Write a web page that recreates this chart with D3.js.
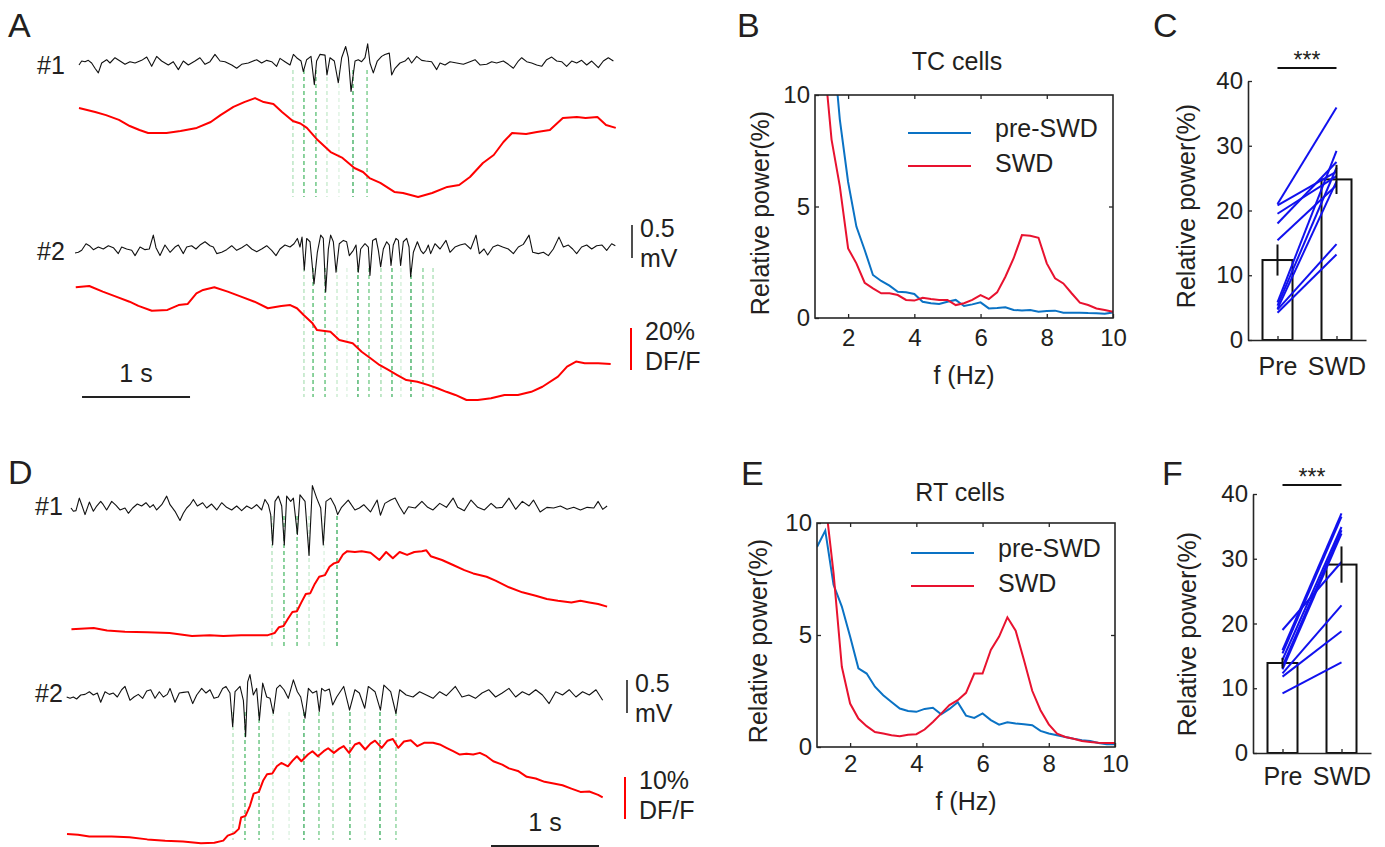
<!DOCTYPE html>
<html><head><meta charset="utf-8">
<script src="https://cdn.jsdelivr.net/npm/d3@7"></script>
<style>
body{margin:0;background:#fff}
text{font-family:Arial,"Liberation Sans",sans-serif;fill:#231f20}
</style>
</head><body>
<svg id="c" width="1385" height="847" style="background:#fff"></svg>
<script>
// ---------------- DATA ----------------
// Panel A, EEG traces [time s, mV]
const eegA1 = [[0,-0.03],[0.025,0.03],[0.056,0.02],[0.086,0.04],[0.117,0],[0.148,-0.08],[0.179,-0.15],[0.21,0],[0.256,0.05],[0.287,0],[0.333,0.08],[0.38,0.03],[0.426,-0.02],[0.472,0.02],[0.519,0],[0.58,0.04],[0.627,0.09],[0.673,-0.05],[0.719,0.1],[0.765,0.03],[0.827,-0.03],[0.873,0.02],[0.92,-0.1],[0.966,0.03],[1.012,-0.03],[1.074,0.03],[1.12,0.08],[1.167,-0.02],[1.213,0.02],[1.259,0.13],[1.306,0.03],[1.352,0.02],[1.414,-0.03],[1.46,-0.08],[1.506,-0.02],[1.568,0],[1.645,0.05],[1.691,0],[1.738,0.04],[1.784,0.02],[1.83,-0.05],[1.861,0.07],[1.907,0.02],[1.954,-0.03],[1.985,0.13],[2.015,0.08],[2.056,0.03],[2.077,-0.13],[2.108,0.05],[2.148,0.1],[2.179,-0.33],[2.2,0.03],[2.231,0.13],[2.278,0.12],[2.296,-0.18],[2.324,0.08],[2.364,0.03],[2.401,-0.3],[2.432,0.08],[2.469,0.25],[2.494,0.08],[2.519,-0.43],[2.556,0.03],[2.586,0.05],[2.617,0.02],[2.648,0.08],[2.673,0.29],[2.694,0],[2.725,-0.15],[2.762,0.03],[2.802,0.1],[2.833,0.13],[2.873,0.15],[2.895,-0.18],[2.926,-0.08],[2.972,0],[3.019,0.03],[3.05,0.08],[3.08,0],[3.127,0.1],[3.173,0.04],[3.21,0.03],[3.265,0.02],[3.312,-0.1],[3.343,0],[3.389,-0.03],[3.435,0.02],[3.497,0],[3.559,-0.02],[3.62,0.02],[3.667,0.05],[3.713,-0.03],[3.775,-0.02],[3.821,0.02],[3.867,0],[3.929,0.03],[3.975,-0.02],[4.022,-0.08],[4.068,0.03],[4.099,0.08],[4.145,0.02],[4.191,0],[4.238,-0.03],[4.284,-0.05],[4.33,0.05],[4.377,0.09],[4.423,0.03],[4.469,0.02],[4.515,-0.05],[4.562,0.03],[4.608,0],[4.654,0.04],[4.701,-0.03],[4.747,0.03],[4.809,-0.07],[4.855,0.03],[4.901,0.08],[4.948,0.03]];
const eegA2 = [[-0.037,-0.06],[-0.006,-0.05],[0.025,-0.02],[0.065,0.08],[0.096,0.05],[0.133,-0.01],[0.179,0.03],[0.225,0],[0.272,0.05],[0.318,0.02],[0.364,-0.07],[0.395,0.03],[0.441,0],[0.488,-0.02],[0.519,-0.1],[0.565,0.03],[0.611,-0.01],[0.651,0],[0.688,0.21],[0.713,0.02],[0.75,-0.1],[0.796,0.06],[0.843,-0.05],[0.889,0.03],[0.92,0.06],[0.966,-0.07],[0.997,0.03],[1.043,0.05],[1.083,0],[1.12,0.06],[1.167,0.11],[1.213,0.05],[1.244,0.03],[1.275,-0.07],[1.321,-0.05],[1.367,-0.01],[1.414,0.05],[1.46,-0.02],[1.506,0.02],[1.553,0.07],[1.599,0],[1.645,-0.04],[1.691,0],[1.738,0.05],[1.784,-0.02],[1.824,-0.1],[1.861,0],[1.907,0.06],[1.954,0.03],[1.991,0.08],[2.022,0.16],[2.046,0.03],[2.065,0.18],[2.086,-0.32],[2.108,0.16],[2.139,0.11],[2.176,-0.53],[2.207,-0.05],[2.238,0.21],[2.262,0.16],[2.284,-0.65],[2.309,0],[2.33,0.21],[2.355,0.11],[2.38,-0.35],[2.41,0.08],[2.448,0.13],[2.478,0.11],[2.503,-0.1],[2.54,-0.02],[2.565,0.06],[2.586,-0.35],[2.608,0],[2.648,0.08],[2.679,0.03],[2.694,-0.4],[2.719,0.13],[2.75,0.16],[2.772,-0.02],[2.793,-0.27],[2.818,0],[2.849,0.11],[2.873,0.06],[2.889,-0.25],[2.91,0.06],[2.935,0.16],[2.957,0.13],[2.978,-0.25],[3.003,0.11],[3.034,0.16],[3.056,0.03],[3.071,-0.42],[3.096,-0.05],[3.133,0.11],[3.164,-0.02],[3.188,-0.07],[3.213,-0.02],[3.235,0.06],[3.256,-0.07],[3.296,0.08],[3.343,0],[3.398,0.13],[3.435,-0.05],[3.481,0.03],[3.528,0.06],[3.574,0.08],[3.627,0],[3.676,0.21],[3.707,-0.07],[3.75,0],[3.784,-0.09],[3.833,0.03],[3.877,0.06],[3.923,0.03],[3.975,0],[4.022,-0.07],[4.068,0.03],[4.114,0.07],[4.167,0.21],[4.201,-0.05],[4.253,-0.07],[4.3,-0.05],[4.346,-0.1],[4.392,0],[4.444,0.18],[4.485,0.03],[4.531,0.06],[4.571,0],[4.608,-0.07],[4.654,0.03],[4.701,0.06],[4.747,0],[4.793,0.05],[4.843,0.06],[4.886,-0.02],[4.932,0.08],[4.966,0.05]];
// Panel A, calcium traces [time s, DF/F %]
const caA1 = [[0,42.4],[0.15,40.5],[0.25,39.0],[0.37,36.7],[0.47,33.8],[0.56,31.9],[0.64,30.5],[0.81,30.5],[0.94,31.4],[1.09,32.9],[1.22,35.7],[1.31,39.0],[1.43,42.9],[1.53,45.2],[1.63,47.1],[1.71,45.2],[1.80,44.3],[1.88,40.5],[1.98,36.2],[2.05,35.0],[2.11,32.9],[2.21,27.1],[2.33,21.4],[2.44,18.6],[2.55,13.8],[2.63,11.9],[2.69,9.0],[2.79,6.7],[2.92,2.4],[3.00,1.9],[3.14,0],[3.27,1.9],[3.41,4.8],[3.52,5.7],[3.62,9.5],[3.74,16.2],[3.84,20.0],[3.93,26.2],[4.01,30.5],[4.14,30.0],[4.24,31.0],[4.36,31.9],[4.48,37.6],[4.61,38.1],[4.69,37.6],[4.80,38.1],[4.88,34.3],[4.97,32.9]];
const caA2 = [[-0.03,53.7],[0.095,54.3],[0.22,51.6],[0.343,49.2],[0.468,46.8],[0.55,44.8],[0.674,42.5],[0.819,42.9],[0.922,45.2],[1.005,45.7],[1.087,50.8],[1.149,52.4],[1.253,53.7],[1.377,51.6],[1.5,49.2],[1.625,46.8],[1.749,43.7],[1.873,44.8],[1.956,45.2],[2.018,43.7],[2.08,40.5],[2.162,36.5],[2.204,33.3],[2.328,32.5],[2.41,28.6],[2.534,27.0],[2.617,23.0],[2.699,19.9],[2.782,16.7],[2.865,14.3],[2.947,11.9],[3.031,9.5],[3.133,8.7],[3.237,7.1],[3.319,5.6],[3.402,3.9],[3.485,2.4],[3.588,0],[3.692,0],[3.815,0.8],[3.94,2.4],[4.064,2.4],[4.188,3.9],[4.291,6.3],[4.435,11.1],[4.519,15.9],[4.602,18.3],[4.683,17.5],[4.807,17.5],[4.923,17.1]];
// SWD spike times (s) for dashed markers
const evA1 = [1.981,2.083,2.194,2.296,2.407,2.537,2.667];
const evA2 = [2.083,2.167,2.278,2.389,2.481,2.583,2.685,2.796,2.898,2.981,3.074,3.185,3.278];

// Panel D
const eegD1 = [[0,0],[0.022,-0.05],[0.046,-0.04],[0.077,0.15],[0.099,0.05],[0.13,-0.1],[0.17,0.09],[0.207,-0.05],[0.238,0.03],[0.275,0.1],[0.299,0.05],[0.33,-0.03],[0.377,0.1],[0.417,0.04],[0.454,-0.03],[0.5,0],[0.531,-0.08],[0.571,0],[0.614,0.06],[0.654,0.03],[0.694,0.08],[0.731,0.01],[0.762,0.05],[0.793,-0.03],[0.84,0.05],[0.886,0.18],[0.917,0.05],[0.963,-0.05],[1.009,-0.19],[1.04,-0.08],[1.071,0],[1.102,0.05],[1.133,0.13],[1.17,0.03],[1.219,0.08],[1.256,0],[1.302,0.06],[1.349,-0.03],[1.395,0.08],[1.441,0.01],[1.488,-0.03],[1.534,0.03],[1.58,-0.04],[1.627,0.03],[1.673,-0.01],[1.719,0.05],[1.765,-0.03],[1.796,0.13],[1.827,0.05],[1.849,-0.1],[1.867,-0.56],[1.889,0.1],[1.92,0.18],[1.951,0.03],[1.975,-0.56],[1.997,0.18],[2.034,0.1],[2.059,0.15],[2.096,-0.4],[2.12,0.2],[2.167,0.1],[2.204,-0.72],[2.235,0.34],[2.275,0.15],[2.312,0],[2.336,-0.56],[2.361,0.1],[2.404,0.15],[2.444,0.03],[2.469,-0.1],[2.505,0.01],[2.567,0.12],[2.629,-0.03],[2.67,0],[2.711,0.05],[2.773,-0.06],[2.835,0.12],[2.865,-0.11],[2.906,0.07],[2.96,0.12],[3.001,0.15],[3.043,0.02],[3.084,-0.09],[3.125,0.02],[3.187,0],[3.249,0.1],[3.303,0.01],[3.352,-0.03],[3.414,0.07],[3.476,0.01],[3.538,0.15],[3.58,0.01],[3.642,-0.04],[3.704,0.12],[3.766,0.01],[3.828,-0.03],[3.89,0.07],[3.939,0],[3.993,0.01],[4.055,0.15],[4.117,-0.02],[4.179,0.1],[4.241,0.03],[4.282,0.12],[4.344,-0.06],[4.406,0.01],[4.469,0],[4.531,0.03],[4.593,-0.02],[4.655,0.01],[4.717,-0.03],[4.779,0.01],[4.841,0],[4.881,0.1],[4.923,-0.02],[4.964,0.03]];
const eegD2 = [[-0.04,0],[-0.009,-0.02],[0.022,0],[0.052,-0.03],[0.09,0.03],[0.13,0.04],[0.17,0.08],[0.207,0.03],[0.244,0.06],[0.275,-0.08],[0.315,0.08],[0.355,0.04],[0.392,0.06],[0.429,0],[0.469,0.11],[0.5,0.16],[0.546,-0.05],[0.583,0],[0.623,0.04],[0.664,-0.02],[0.701,0.09],[0.738,0.11],[0.778,-0.02],[0.818,0.08],[0.855,0],[0.892,0.04],[0.917,0.13],[0.963,-0.08],[1.003,0.06],[1.04,0.07],[1.086,0.08],[1.127,-0.1],[1.164,0.03],[1.21,0.13],[1.25,0.06],[1.287,0.11],[1.324,-0.02],[1.364,0],[1.404,0.13],[1.435,0.16],[1.472,0.06],[1.497,-0.45],[1.519,0.08],[1.565,0.16],[1.596,-0.05],[1.617,-0.6],[1.636,0.23],[1.657,0.34],[1.688,0.03],[1.719,0.13],[1.744,-0.35],[1.775,0.21],[1.812,0],[1.843,-0.02],[1.873,-0.25],[1.904,0.13],[1.935,0.18],[1.972,0.11],[2.012,-0.02],[2.059,0.26],[2.096,0.08],[2.127,0],[2.167,-0.32],[2.198,0.13],[2.238,0.06],[2.275,0.09],[2.299,-0.22],[2.321,0.13],[2.352,0.09],[2.392,0.12],[2.423,-0.12],[2.46,0],[2.525,0.16],[2.579,-0.2],[2.629,0.11],[2.67,0.06],[2.72,-0.17],[2.753,0.16],[2.815,0.08],[2.865,-0.2],[2.897,0.18],[2.96,0.08],[3.009,-0.25],[3.043,0.11],[3.104,0.03],[3.167,0],[3.228,0.08],[3.29,0.03],[3.352,-0.02],[3.414,0.08],[3.476,0.02],[3.559,0.16],[3.62,0],[3.683,0.03],[3.745,-0.02],[3.806,0.06],[3.868,0.11],[3.931,0],[3.993,0.06],[4.055,0.13],[4.117,0],[4.179,0.08],[4.241,0.03],[4.303,0.11],[4.365,0.03],[4.427,-0.1],[4.488,0.08],[4.551,0.03],[4.613,0.11],[4.675,0],[4.737,0.08],[4.799,0.03],[4.861,0.11],[4.923,-0.05]];
const caD1 = [[0.004,1.6],[0.21,1.9],[0.334,1.3],[0.5,1.0],[0.707,0.9],[0.913,0.7],[1.12,0],[1.285,0.2],[1.41,0],[1.575,0.2],[1.74,0.2],[1.823,0.2],[1.885,0.7],[1.926,2.1],[1.968,2.4],[2.009,4.1],[2.05,5.7],[2.092,5.9],[2.133,8.0],[2.174,10.0],[2.216,10.2],[2.257,12.4],[2.298,14.1],[2.352,14.5],[2.394,16.5],[2.434,17.3],[2.476,17.6],[2.518,19.4],[2.558,20.2],[2.629,20.0],[2.691,20.2],[2.773,19.8],[2.856,18.1],[2.918,20.0],[2.98,18.5],[3.043,20.0],[3.112,19.3],[3.179,20.0],[3.249,20.2],[3.29,20.4],[3.331,19.0],[3.435,18.1],[3.538,16.9],[3.642,15.7],[3.724,14.9],[3.848,14.1],[3.931,13.2],[4.055,11.6],[4.179,10.4],[4.303,9.6],[4.406,8.8],[4.509,8.4],[4.633,8.0],[4.717,8.4],[4.799,8.0],[4.881,7.6],[4.964,7.0]];
const caD2 = [[-0.037,2.4],[0.066,2.2],[0.169,1.8],[0.376,1.8],[0.541,1.6],[0.707,1.1],[0.872,0.8],[1.037,0.6],[1.203,0.2],[1.327,0.3],[1.41,0.8],[1.451,2.0],[1.513,2.6],[1.554,3.6],[1.575,6.3],[1.616,6.7],[1.657,9.1],[1.691,12.0],[1.74,12.4],[1.781,15.2],[1.815,16.6],[1.864,16.8],[1.906,18.5],[1.947,19.3],[2.009,18.5],[2.05,19.8],[2.092,20.9],[2.133,19.7],[2.194,21.3],[2.236,22.1],[2.286,20.9],[2.34,22.1],[2.381,22.8],[2.434,21.7],[2.484,22.7],[2.525,23.3],[2.575,21.7],[2.629,23.7],[2.67,24.1],[2.724,22.5],[2.773,23.9],[2.815,24.6],[2.877,22.9],[2.931,24.6],[2.98,25.0],[3.03,22.9],[3.083,24.4],[3.146,24.7],[3.207,23.3],[3.269,24.1],[3.352,24.1],[3.414,23.7],[3.476,22.9],[3.538,22.1],[3.6,21.3],[3.662,21.5],[3.724,21.3],[3.786,21.7],[3.848,20.9],[3.91,19.7],[3.993,18.9],[4.055,18.0],[4.138,17.4],[4.22,16.0],[4.303,15.6],[4.385,14.8],[4.469,14.4],[4.551,14.0],[4.633,13.2],[4.717,12.4],[4.799,12.5],[4.881,11.7],[4.923,11.1]];
const evD1 = [1.861,1.972,2.093,2.204,2.343,2.463];
const evD2 = [1.5,1.611,1.741,1.87,2.019,2.157,2.296,2.426,2.583,2.722,2.861,3.009];

// Panels B, E: spectra (Hz, relative power %)
const freqB = [1.25,1.5,1.75,2,2.25,2.5,2.75,3,3.25,3.5,3.75,4,4.25,4.5,4.75,5,5.25,5.5,5.75,6,6.25,6.5,6.75,7,7.25,7.5,7.75,8,8.25,8.5,8.75,9,9.25,9.5,9.75,10];
const tcPre = [17,13,8.9,6.1,4.1,3.05,1.93,1.66,1.45,1.18,1.15,1.08,0.73,0.66,0.63,0.73,0.81,0.54,0.61,0.70,0.43,0.45,0.48,0.36,0.34,0.36,0.28,0.31,0.33,0.24,0.24,0.24,0.22,0.21,0.19,0.25];
const tcSwd = [12,8.0,5.9,3.12,2.45,1.58,1.33,1.11,1.11,1.03,0.81,0.78,0.91,0.85,0.81,0.81,0.58,0.66,0.81,1.03,0.85,1.15,1.85,2.68,3.72,3.69,3.60,2.45,1.78,1.55,1.11,0.69,0.58,0.43,0.36,0.28];
const freqE = [1,1.25,1.5,1.75,2,2.25,2.5,2.75,3,3.25,3.5,3.75,4,4.25,4.5,4.75,5,5.25,5.5,5.75,6,6.25,6.5,6.75,7,7.25,7.5,7.75,8,8.25,8.5,8.75,9,9.25,9.5,9.75,10];
const rtPre = [8.93,9.66,7.24,6.27,4.93,3.51,3.28,2.69,2.31,2.01,1.72,1.61,1.57,1.70,1.75,1.46,1.70,2.0,1.4,1.3,1.5,1.2,1.0,1.1,1.05,1.02,0.97,0.72,0.6,0.52,0.45,0.37,0.3,0.27,0.18,0.12,0.12];
const rtSwd = [13,11,7.76,3.58,1.94,1.27,0.93,0.67,0.60,0.52,0.48,0.55,0.57,0.78,1.12,1.49,1.87,2.09,2.42,3.28,3.28,4.33,4.93,5.79,5.19,3.88,2.51,1.64,1.01,0.60,0.45,0.37,0.27,0.22,0.19,0.18,0.18];
const freqTicks = [2,4,6,8,10];
const powTicks = [0,5,10];

// Panels C, F: paired relative power (%)
const groups = ["Pre","SWD"];
const tcPairPre = [21.0,19.5,18.0,15.4,20.8,5.8,5.3,4.8,4.7,4.2];
const tcPairSwd = [35.9,25.3,27.5,23.9,26.0,29.2,26.6,24.5,14.8,13.2];
const tcMean = [12.35,24.8];
const tcSem = [2.4,2.25];
const rtPairPre = [19.0,15.9,15.4,14.4,13.4,12.9,12.3,11.8,9.2];
const rtPairSwd = [29.5,37.0,36.5,34.9,34.4,33.9,22.8,18.8,14.0];
const rtMean = [13.9,29.1];
const rtSem = [0.8,2.8];
const barTicks = [0,10,20,30,40];

// ---------------- DRAWING ----------------
const svg = d3.select("#c");
const FS = 24, FL = 25, INK = "#231f20";
const greens = ["#a3dcae","#2fae4e","#3bb35a","#b9e6c1","#d4efd9","#139c3c","#55bf6d","#8fd49c","#24a548","#c8ebcf","#0f9a3a","#6cc781","#9ad9a6"];

function txt(x, y, s, size, anchor, color) {
  return svg.append("text").attr("x", x).attr("y", y).attr("font-size", size || FS)
    .attr("text-anchor", anchor || "start").style("fill", color || INK).text(s);
}
function lineG(data, xs, ys, color, w) {
  svg.append("path").datum(data)
    .attr("d", d3.line().x(d => xs(d[0])).y(d => ys(d[1])))
    .attr("fill", "none").attr("stroke", color).attr("stroke-width", w)
    .attr("stroke-linejoin", "round");
}
function events(ev, xs, y0, y1) {
  svg.append("g").selectAll("line").data(ev).join("line")
    .attr("x1", d => xs(d)).attr("x2", d => xs(d)).attr("y1", y0).attr("y2", y1)
    .attr("stroke", (d, i) => greens[i % greens.length]).attr("stroke-width", 1.1)
    .attr("stroke-dasharray", "4,3");
}

// panel letters
[["A",8,37],["B",737,37],["C",1153,37],["D",8,484],["E",741,485],["F",1162,485]]
  .forEach(p => txt(p[1], p[2], p[0], 34));

// ---- trace panels ----
function tracePanel(c) {
  const xs = d3.scaleLinear().domain([0, 5]).range([c.x0, c.x0 + 540]);
  const yE1 = d3.scaleLinear().domain([0, 0.5]).range([c.e1, c.e1 - 33]);
  const yE2 = d3.scaleLinear().domain([0, 0.5]).range([c.e2, c.e2 - 33]);
  const yC1 = d3.scaleLinear().domain([0, c.caBar]).range([c.c1, c.c1 - 42]);
  const yC2 = d3.scaleLinear().domain([0, c.caBar]).range([c.c2, c.c2 - 42]);
  events(c.ev1, xs, c.evY1[0], c.evY1[1]);
  events(c.ev2, xs, c.evY2[0], c.evY2[1]);
  lineG(c.eeg1, xs, yE1, "#111", 1.1);
  lineG(c.eeg2, xs, yE2, "#111", 1.1);
  lineG(c.ca1, xs, yC1, "#ff0000", 2);
  lineG(c.ca2, xs, yC2, "#ff0000", 2);
  txt(c.lx, c.l1, "#1", FL); txt(c.lx, c.l2, "#2", FL);
  // time scale bar (1 s)
  svg.append("line").attr("x1", xs(c.sbT)).attr("x2", xs(c.sbT + 1))
    .attr("y1", c.sbY).attr("y2", c.sbY).attr("stroke", "#222").attr("stroke-width", 2);
  txt((xs(c.sbT) + xs(c.sbT + 1)) / 2, c.sbY - 15, "1 s", FL, "middle");
  // 0.5 mV bar
  svg.append("line").attr("x1", c.mvX).attr("x2", c.mvX)
    .attr("y1", c.mvY).attr("y2", c.mvY + (yE1(0) - yE1(0.5)))
    .attr("stroke", "#222").attr("stroke-width", 1.6);
  txt(c.mvX + 8, c.mvY + 12, "0.5", FL); txt(c.mvX + 8, c.mvY + 42, "mV", FL);
  // DF/F bar
  svg.append("line").attr("x1", c.caX).attr("x2", c.caX)
    .attr("y1", c.caY).attr("y2", c.caY + (yC1(0) - yC1(c.caBar)))
    .attr("stroke", "#ff0000").attr("stroke-width", 2);
  txt(c.caX + 14, c.caY + 12, c.caBar + "%", FL); txt(c.caX + 14, c.caY + 42, "DF/F", FL);
}
tracePanel({x0: 79, e1: 63, e2: 249, c1: 197, c2: 400, caBar: 20,
  eeg1: eegA1, eeg2: eegA2, ca1: caA1, ca2: caA2, ev1: evA1, ev2: evA2,
  evY1: [70, 197], evY2: [268, 397], lx: 37, l1: 74, l2: 260,
  sbT: 0.028, sbY: 397, mvX: 632, mvY: 225, caX: 631, caY: 328});
tracePanel({x0: 71, e1: 508, e2: 697, c1: 636, c2: 844, caBar: 10,
  eeg1: eegD1, eeg2: eegD2, ca1: caD1, ca2: caD2, ev1: evD1, ev2: evD2,
  evY1: [516, 647], evY2: [712, 840], lx: 35, l1: 515, l2: 702,
  sbT: 3.889, sbY: 846, mvX: 627, mvY: 680, caX: 625, caY: 777});

// ---- spectrum panels ----
function specPanel(c) {
  const xs = d3.scaleLinear().domain([1, 10]).range([c.l, c.r]);
  const ys = d3.scaleLinear().domain([0, 10]).range([c.b, c.t]);
  const id = "clip" + c.title.replace(/\s/g, "");
  svg.append("clipPath").attr("id", id).append("rect")
    .attr("x", c.l).attr("y", c.t).attr("width", c.r - c.l).attr("height", c.b - c.t);
  const g = svg.append("g").attr("clip-path", `url(#${id})`);
  const line = d3.line().x(d => xs(d[0])).y(d => ys(d[1]));
  g.append("path").datum(c.f.map((f, i) => [f, c.pre[i]])).attr("d", line)
    .attr("fill", "none").attr("stroke", "#0a72c4").attr("stroke-width", 2);
  g.append("path").datum(c.f.map((f, i) => [f, c.swd[i]])).attr("d", line)
    .attr("fill", "none").attr("stroke", "#e8122f").attr("stroke-width", 2);
  const style = a => { a.selectAll(".domain").remove();
    a.selectAll(".tick line").attr("stroke", "#262626").attr("stroke-width", 1.3);
    a.selectAll("text").attr("font-size", FS).style("fill", INK)
      .style("font-family", "Arial, 'Liberation Sans', sans-serif"); };
  svg.append("g").attr("transform", `translate(0,${c.b})`)
    .call(d3.axisBottom(xs).tickValues(freqTicks).tickSize(-4).tickPadding(c.xpad)).call(style);
  svg.append("g").attr("transform", `translate(0,${c.t})`)
    .call(d3.axisTop(xs).tickValues(freqTicks.slice(0, 4)).tickSize(-4).tickFormat("")).call(style);
  svg.append("g").attr("transform", `translate(${c.l},0)`)
    .call(d3.axisLeft(ys).tickValues(powTicks).tickSize(-4).tickPadding(5)).call(style);
  svg.append("g").attr("transform", `translate(${c.r},0)`)
    .call(d3.axisRight(ys).tickValues([5]).tickSize(-4).tickFormat("")).call(style);
  svg.append("rect").attr("x", c.l).attr("y", c.t).attr("width", c.r - c.l).attr("height", c.b - c.t)
    .attr("fill", "none").attr("stroke", "#262626").attr("stroke-width", 1.6);
  txt((c.l + c.r) / 2, c.b + c.flab, "f (Hz)", FL, "middle");
  txt(c.tx, c.ty, c.title, FL, "middle");
  svg.append("text").attr("transform", `translate(${c.yl},${c.ylc}) rotate(-90)`)
    .attr("text-anchor", "middle").attr("font-size", FL).style("fill", INK).text("Relative power(%)");
  // legend
  [["pre-SWD", "#0a72c4", c.lg1], ["SWD", "#e8122f", c.lg2]].forEach(e => {
    svg.append("line").attr("x1", c.lgx).attr("x2", c.lgx + 63).attr("y1", e[2]).attr("y2", e[2])
      .attr("stroke", e[1]).attr("stroke-width", 2);
    txt(c.lgx + 87, e[2] + (e[0] === "SWD" ? 6 : 4), e[0], FL);
  });
}
specPanel({l: 815, r: 1113, t: 95, b: 318, f: freqB, pre: tcPre, swd: tcSwd, xpad: 11,
  flab: 66, title: "TC cells", tx: 957, ty: 70, yl: 769, ylc: 213, lgx: 908, lg1: 133, lg2: 166});
specPanel({l: 817, r: 1115, t: 523, b: 747, f: freqE, pre: rtPre, swd: rtSwd, xpad: 8,
  flab: 63, title: "RT cells", tx: 960, ty: 501, yl: 767, ylc: 641, lgx: 911, lg1: 553, lg2: 586});

// ---- paired bar panels ----
function barPanel(c) {
  const xs = d3.scalePoint().domain(groups).range([c.l, c.r]).padding(0.5);
  const ys = d3.scaleLinear().domain([0, 40]).range([c.b, c.t]);
  const bw = 30;
  svg.append("g").selectAll("rect").data(c.mean).join("rect")
    .attr("x", (d, i) => xs(groups[i]) - bw / 2).attr("y", d => ys(d))
    .attr("width", bw).attr("height", d => ys(0) - ys(d))
    .attr("fill", "#fff").attr("stroke", "#111").attr("stroke-width", 2);
  svg.append("g").selectAll("line").data(c.pre).join("line")
    .attr("x1", xs("Pre")).attr("x2", xs("SWD"))
    .attr("y1", d => ys(d)).attr("y2", (d, i) => ys(c.swd[i]))
    .attr("stroke", "#1111ee").attr("stroke-width", 2);
  svg.append("g").selectAll("line").data(c.mean).join("line")
    .attr("x1", (d, i) => xs(groups[i])).attr("x2", (d, i) => xs(groups[i]))
    .attr("y1", (d, i) => ys(d - c.sem[i])).attr("y2", (d, i) => ys(d + c.sem[i]))
    .attr("stroke", "#111").attr("stroke-width", 2);
  const style = a => { a.selectAll(".domain").attr("stroke", "#262626").attr("stroke-width", 1.6);
    a.selectAll(".tick line").attr("stroke", "#262626").attr("stroke-width", 1.3);
    a.selectAll("text").attr("font-size", FS).style("fill", INK)
      .style("font-family", "Arial, 'Liberation Sans', sans-serif"); };
  svg.append("g").attr("transform", `translate(${c.l},0)`)
    .call(d3.axisLeft(ys).tickValues(barTicks).tickSize(-4).tickSizeOuter(0).tickPadding(5)).call(style);
  const xa = svg.append("g").attr("transform", `translate(0,${c.b})`)
    .call(d3.axisBottom(xs).tickSize(-4).tickSizeOuter(0).tickPadding(c.xpad)).call(style);
  xa.selectAll("text").attr("font-size", FL);
  svg.append("line").attr("x1", xs("Pre")).attr("x2", xs("SWD")).attr("y1", c.sig).attr("y2", c.sig)
    .attr("stroke", "#111").attr("stroke-width", 2);
  txt((xs("Pre") + xs("SWD")) / 2, c.sig, "***", 23, "middle");
  svg.append("text").attr("transform", `translate(${c.yl},${c.ylc}) rotate(-90)`)
    .attr("text-anchor", "middle").attr("font-size", FL).style("fill", INK).text("Relative power(%)");
}
barPanel({l: 1248, r: 1366, t: 81, b: 340, pre: tcPairPre, swd: tcPairSwd, mean: tcMean, sem: tcSem,
  xpad: 17, sig: 68, yl: 1195, ylc: 206});
barPanel({l: 1253, r: 1371, t: 494, b: 753, pre: rtPairPre, swd: rtPairSwd, mean: rtMean, sem: rtSem,
  xpad: 14, sig: 485, yl: 1196, ylc: 634});
</script>
</body></html>
